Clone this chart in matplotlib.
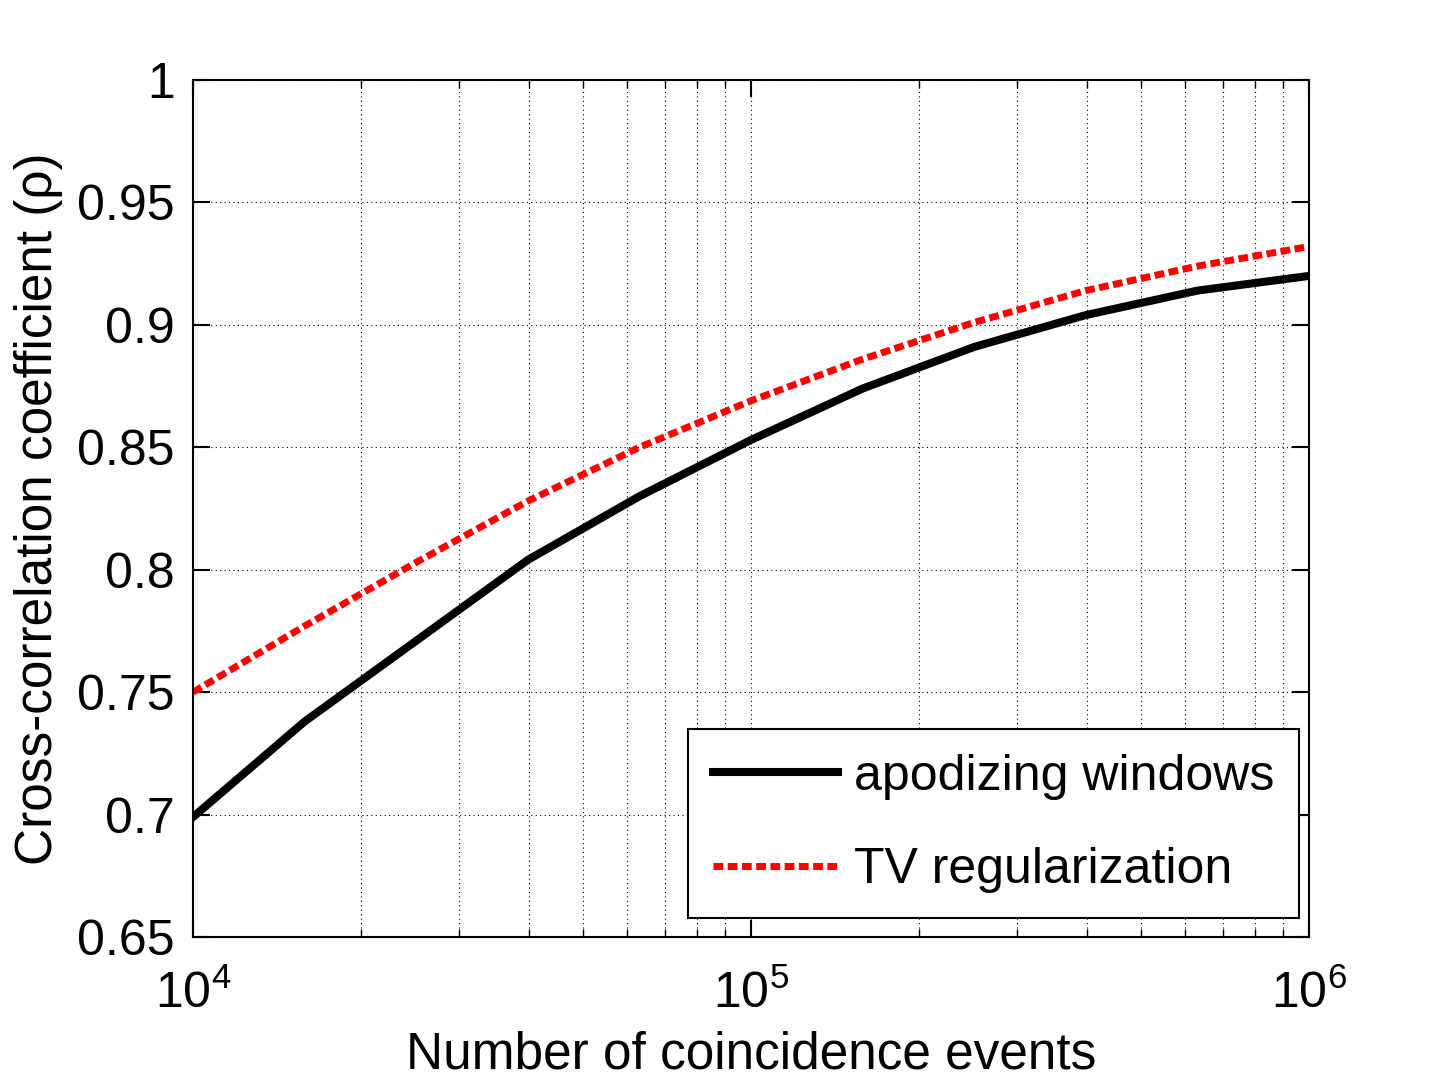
import matplotlib
matplotlib.use("Agg")
import matplotlib.pyplot as plt
from matplotlib.ticker import LogLocator, NullFormatter, FixedLocator

plt.rcParams['font.family'] = ['Liberation Sans', 'DejaVu Sans']
plt.rcParams['mathtext.fontset'] = 'custom'
plt.rcParams['mathtext.rm'] = 'Liberation Sans'
plt.rcParams['mathtext.it'] = 'Liberation Sans:italic'

# Number of coincidence events (log spaced samples)
events = [1e4, 1.585e4, 2.512e4, 3.981e4, 6.310e4, 1e5,
          1.585e5, 2.512e5, 3.981e5, 6.310e5, 1e6]

# Cross-correlation coefficient
apodizing = [0.699, 0.738, 0.771, 0.804, 0.830, 0.853,
             0.874, 0.891, 0.904, 0.914, 0.920]
tv_reg = [0.750, 0.777, 0.803, 0.828, 0.850, 0.869,
          0.886, 0.901, 0.914, 0.924, 0.932]

y_ticks = [0.65, 0.7, 0.75, 0.8, 0.85, 0.9, 0.95, 1]
y_ticklabels = ['0.65', '0.7', '0.75', '0.8', '0.85', '0.9', '0.95', '1']

fig = plt.figure(figsize=(14.48, 10.86), dpi=100)
ax = fig.add_axes([0.1333, 0.1372, 0.7707, 0.7891])

ax.plot(events, apodizing, color='black', lw=5.8, solid_joinstyle='miter',
        label='apodizing windows')
ax.plot(events, tv_reg, color='red', lw=5.0, linestyle=(0, (1.4, 0.65)),
        dash_capstyle='butt', label='TV regularization')

ax.set_xscale('log')
ax.set_xlim(1e4, 1e6)
ax.set_ylim(0.65, 1.0)
ax.yaxis.set_major_locator(FixedLocator(y_ticks))
ax.set_yticklabels(y_ticklabels)
ax.xaxis.set_major_locator(LogLocator(base=10, numticks=10))
ax.xaxis.set_minor_locator(LogLocator(base=10, subs=range(2, 10), numticks=10))
ax.xaxis.set_minor_formatter(NullFormatter())

ax.grid(True, which='major', axis='both', color='black', linestyle=(0, (1, 3)), lw=0.8)
ax.grid(True, which='minor', axis='x', color='black', linestyle=(0, (1, 3)), lw=0.8)

ax.tick_params(axis='both', which='major', direction='in', length=12, width=1.5,
               top=True, right=True, labelsize=36)
ax.tick_params(axis='x', which='major', pad=24)
ax.tick_params(axis='y', which='major', pad=13)
ax.tick_params(axis='x', which='minor', direction='in', length=6, width=1.0,
               top=True, bottom=True)
for s in ax.spines.values():
    s.set_linewidth(1.5)

ax.set_xlabel('Number of coincidence events', fontsize=37, labelpad=9)
ax.set_ylabel('Cross-correlation coefficient (ρ)', fontsize=37, labelpad=10)

leg = ax.legend(loc='lower right', fontsize=36, frameon=True, fancybox=False,
                edgecolor='black', framealpha=1, handlelength=2.5,
                borderpad=0.5, labelspacing=0.95, handletextpad=0.32,
                borderaxespad=0, bbox_to_anchor=(0.991, 0.022))
leg.get_frame().set_linewidth(1.5)

fig.savefig('out.png', dpi=100)
